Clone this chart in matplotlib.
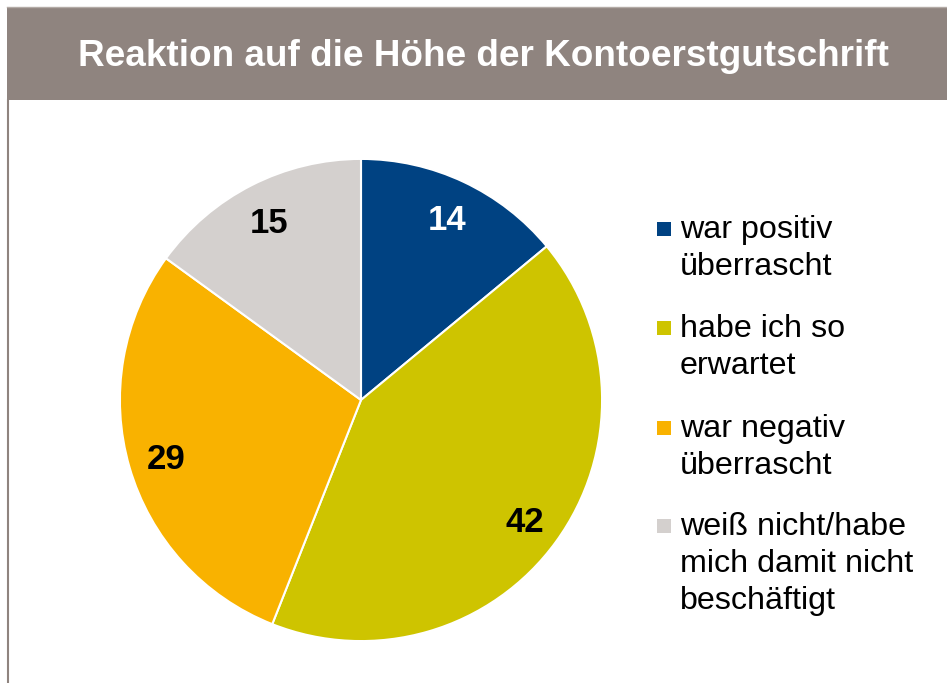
import matplotlib
matplotlib.use("Agg")
import matplotlib.pyplot as plt
from matplotlib.patches import Rectangle
from matplotlib.lines import Line2D

plt.rcParams['font.family'] = ['Liberation Sans', 'DejaVu Sans']

title = "Reaktion auf die Höhe der Kontoerstgutschrift"
categories = ["war positiv\nüberrascht", "habe ich so\nerwartet",
              "war negativ\nüberrascht", "weiß nicht/habe\nmich damit nicht\nbeschäftigt"]
values = [14, 42, 29, 15]
colors = ["#004282", "#cec400", "#f9b200", "#d4d0ce"]
label_colors = ["white", "black", "black", "black"]

W, H = 947, 683
fig = plt.figure(figsize=(W / 100, H / 100), dpi=100)
fig.patch.set_facecolor("white")

def fx(px):
    return px / W

def fy(py):
    return 1 - py / H

# header band
fig.patches.append(Rectangle((fx(7), fy(100)), fx(W - 7), 93 / H,
                             transform=fig.transFigure, facecolor="#8f847f",
                             edgecolor="none", zorder=0))
fig.lines.append(Line2D([fx(7), fx(W)], [fy(7), fy(7)], transform=fig.transFigure,
                        color="#b3aba6", linewidth=1))
fig.lines.append(Line2D([fx(8), fx(8)], [fy(100), fy(H)], transform=fig.transFigure,
                        color="#8f847f", linewidth=1.5))
fig.text(fx(483), fy(66), title, color="white", fontsize=26.6, fontweight="bold",
         ha="center", va="baseline")

# pie
cx, cy, r = 361, 400, 243
ax = fig.add_axes([fx(cx - r), fy(cy + r), 2 * r / W, 2 * r / H])
wedges, texts = ax.pie(values, colors=colors, startangle=90, counterclock=False,
                       labels=[str(v) for v in values], labeldistance=0.84,
                       wedgeprops=dict(edgecolor="white", linewidth=1.5),
                       textprops=dict(fontsize=25, fontweight="bold"))
for t, c in zip(texts, label_colors):
    t.set_color(c)
    t.set_ha("center")
    t.set_va("center_baseline")
ax.set_xlim(-1.008, 1.008)
ax.set_ylim(-1.008, 1.008)
ax.axis("off")

# legend
baselines = [238, 337, 437, 535]
for lab, col, b in zip(categories, colors, baselines):
    fig.patches.append(Rectangle((fx(657), fy(b - 2)), 14 / W, 14 / H,
                                 transform=fig.transFigure, facecolor=col,
                                 edgecolor="none"))
    for i, line in enumerate(lab.split("\n")):
        fig.text(fx(680), fy(b + 37 * i), line, fontsize=23.2, ha="left",
                 va="baseline", color="black")

fig.savefig("out.png", dpi=100, facecolor="white")
